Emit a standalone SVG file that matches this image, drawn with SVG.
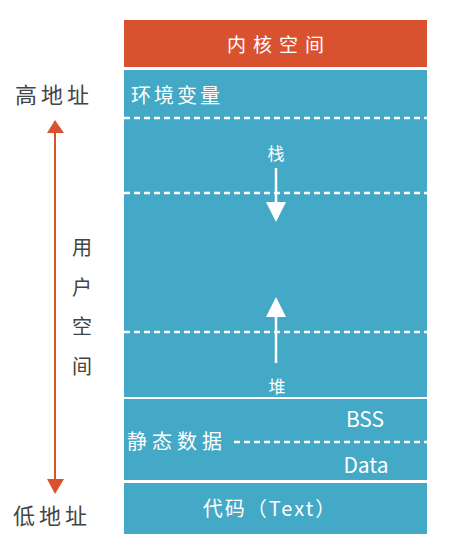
<svg xmlns="http://www.w3.org/2000/svg" width="475" height="558" viewBox="0 0 475 558">
<style>
.box{fill:#44A9C6}
.w{fill:#ffffff;font-family:"Noto Sans CJK SC","Noto Sans",sans-serif}
.g{fill:#444444;font-family:"Noto Sans CJK SC","Noto Sans",sans-serif}
.dash{stroke:#ffffff;stroke-width:2.5;stroke-dasharray:6,4;fill:none}
</style>
<defs>
<marker id="wa" viewBox="0 0 10 10" refX="5" refY="5" markerWidth="22" markerHeight="20" markerUnits="userSpaceOnUse" orient="auto"><path d="M0,0 L10,5 L0,10 z" fill="#ffffff"/></marker>
</defs>
<rect width="475" height="558" fill="#ffffff"/>
<g id="kernel">
<rect x="124" y="20" width="303" height="47" fill="#D95230"/>
<text class="w" x="279" y="52" font-size="19" letter-spacing="7" text-anchor="middle">内核空间</text>
</g>
<g id="user">
<rect class="box" x="124" y="70" width="303" height="327"/>
<text class="w" x="131" y="103" font-size="20" letter-spacing="3">环境变量</text>
<line class="dash" x1="124" y1="118" x2="427" y2="118"/>
<line class="dash" x1="124" y1="193" x2="427" y2="193"/>
<line class="dash" x1="124" y1="332" x2="427" y2="332"/>
<text class="w" x="276" y="160" font-size="17" text-anchor="middle">栈</text>
<text class="w" x="277" y="393" font-size="17" text-anchor="middle">堆</text>
</g>
<g id="static">
<rect class="box" x="124" y="399" width="303" height="81"/>
<text class="w" x="127" y="449" font-size="20" letter-spacing="5">静态数据</text>
<line class="dash" x1="234" y1="442" x2="427" y2="442"/>
<text class="w" x="365" y="427" font-size="21" text-anchor="middle">BSS</text>
<text class="w" x="366" y="473" font-size="21" text-anchor="middle">Data</text>
</g>
<g id="code">
<rect class="box" x="124" y="483" width="303" height="51"/>
<text class="w" x="270" y="516" font-size="20" letter-spacing="2" text-anchor="middle">代码（Text）</text>
</g>
<g id="labels">
<text class="g" x="15" y="103" font-size="22" letter-spacing="4">高地址</text>
<text class="g" x="13" y="524" font-size="22" letter-spacing="4">低地址</text>
<text class="g" x="82" y="255" font-size="20" text-anchor="middle">用</text>
<text class="g" x="82" y="295" font-size="20" text-anchor="middle">户</text>
<text class="g" x="82" y="334" font-size="20" text-anchor="middle">空</text>
<text class="g" x="82" y="374" font-size="20" text-anchor="middle">间</text>
</g>
<g id="connectors">
<line x1="276" y1="168" x2="276" y2="212" stroke="#ffffff" stroke-width="2.5" marker-end="url(#wa)"/>
<line x1="276" y1="363" x2="276" y2="307" stroke="#ffffff" stroke-width="2.5" marker-end="url(#wa)"/>
<line x1="55" y1="133" x2="55" y2="479" stroke="#D95230" stroke-width="2"/>
<path d="M47,133 L55,120 L64,133 z" fill="#D95230"/>
<path d="M47,479 L55,494 L64,479 z" fill="#D95230"/>
</g>
</svg>
